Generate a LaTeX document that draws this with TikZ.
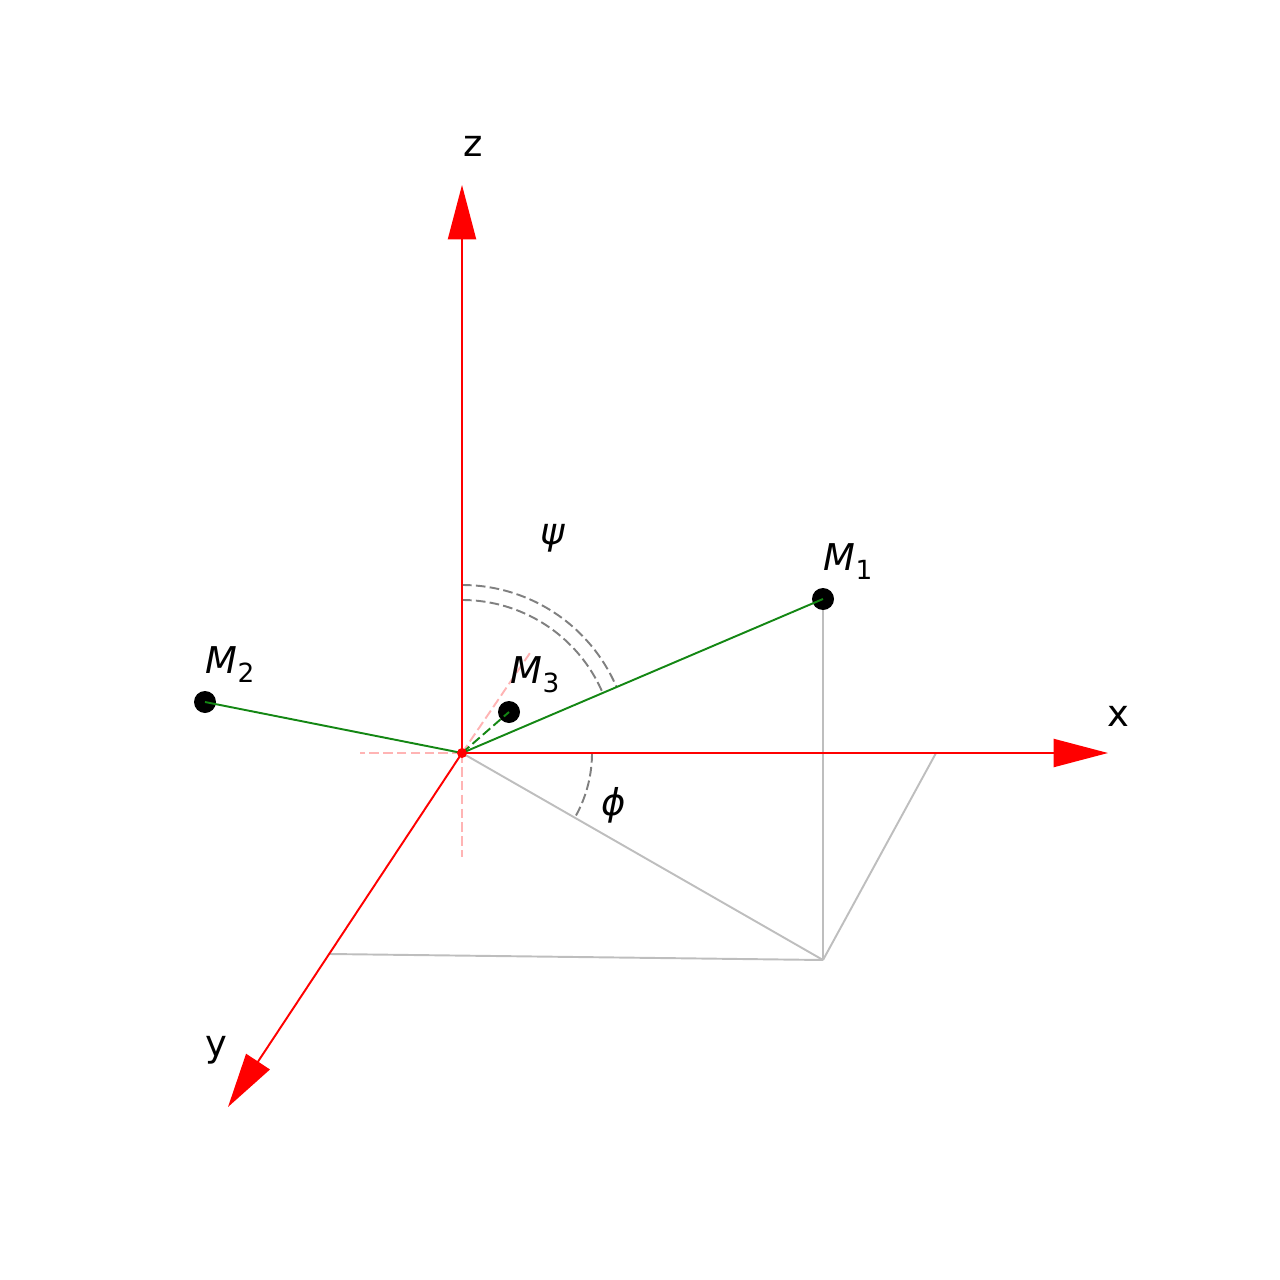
\documentclass[tikz,border=0pt]{standalone}
\usepackage{fontspec}
\setmainfont{DejaVu Sans}
\usetikzlibrary{arrows.meta}
\begin{document}
\begin{tikzpicture}[x=0.02cm,y=-0.02cm,
  axisline/.style={draw=red,line width=1.1pt,-{Triangle[length=31pt,width=16pt]}},
  pinkdash/.style={draw={rgb,255:red,255;green,180;blue,180},line width=1.1pt,dash pattern=on 5.5pt off 2.4pt},
  grayline/.style={draw={rgb,255:red,190;green,190;blue,190},line width=1.1pt},
  arcdash/.style={draw={rgb,255:red,128;green,128;blue,128},line width=1.1pt,dash pattern=on 5.5pt off 2.4pt},
  greenline/.style={draw={rgb,255:red,20;green,135;blue,20},line width=1.1pt},
  ptdot/.style={circle,fill=black,inner sep=0pt,minimum size=0.44cm},
  lbl/.style={font=\fontsize{21}{25}\selectfont,inner sep=0pt}]
\useasboundingbox (0,0) rectangle (1280,1280);
\coordinate (O) at (462,753);
\coordinate (xtip) at (1108,753);
\coordinate (ytip) at (228,1107);
\coordinate (ztip) at (462,185);
\coordinate (P) at (823,960);
\coordinate (Px) at (936,753);
\coordinate (Py) at (330,954);
\coordinate (pl) at (360,753);
\coordinate (pd) at (462,857);
\coordinate (pu) at (532,650);
% pink dashed guides
\draw[pinkdash] (O) -- (pl);
\draw[pinkdash] (O) -- (pd);
\draw[pinkdash] (O) -- (pu);
% gray projections
\draw[grayline] (O) -- (P);
\draw[grayline] (823,599) -- (P);
\draw[grayline] (P) -- (Px);
\draw[grayline] (P) -- (Py);
% angle arcs
\draw[arcdash,domain=0:29.8,samples=40,smooth,variable=\t] plot ({462+130*cos(\t)},{753+130*sin(\t)});
\draw[arcdash,domain=-90:-23.1,samples=60,smooth,variable=\t] plot ({462+168*cos(\t)},{753+168*sin(\t)});
\draw[arcdash,domain=-90:-23.1,samples=60,smooth,variable=\t] plot ({462+153*cos(\t)},{753+153*sin(\t)});
% axes
\draw[axisline] (O) -- (xtip);
\draw[axisline] (O) -- (ytip);
\draw[axisline] (O) -- (ztip);
% points
\node[ptdot] (M1) at (823,599) {};
\node[ptdot] (M2) at (205,702) {};
\node[ptdot] (M3) at (509,712) {};
\draw[greenline] (O) -- (M1.center);
\draw[greenline] (O) -- (M2.center);
\draw[greenline,dash pattern=on 5.5pt off 2.4pt] (O) -- (M3.center);
\node[circle,fill=red,inner sep=0pt,minimum size=0.2cm] (Odot) at (O) {};
% labels
\node[lbl] (lx) at (1118,716) {x};
\node[lbl] (ly) at (216,1050) {y};
\node[lbl] (lz) at (473,146) {z};
\node[lbl] (lM1) at (848,562) {\itshape M\raisebox{-0.45ex}{\upshape\fontsize{15}{18}\selectfont 1}};
\node[lbl] (lM2) at (230,665) {\itshape M\raisebox{-0.45ex}{\upshape\fontsize{15}{18}\selectfont 2}};
\node[lbl] (lM3) at (535,675) {\itshape M\raisebox{-0.45ex}{\upshape\fontsize{15}{18}\selectfont 3}};
\node[lbl] (lpsi) at (553,538) {\itshape ψ};
\node[lbl] (lphi) at (614,805) {\itshape ϕ};
\end{tikzpicture}
\end{document}
